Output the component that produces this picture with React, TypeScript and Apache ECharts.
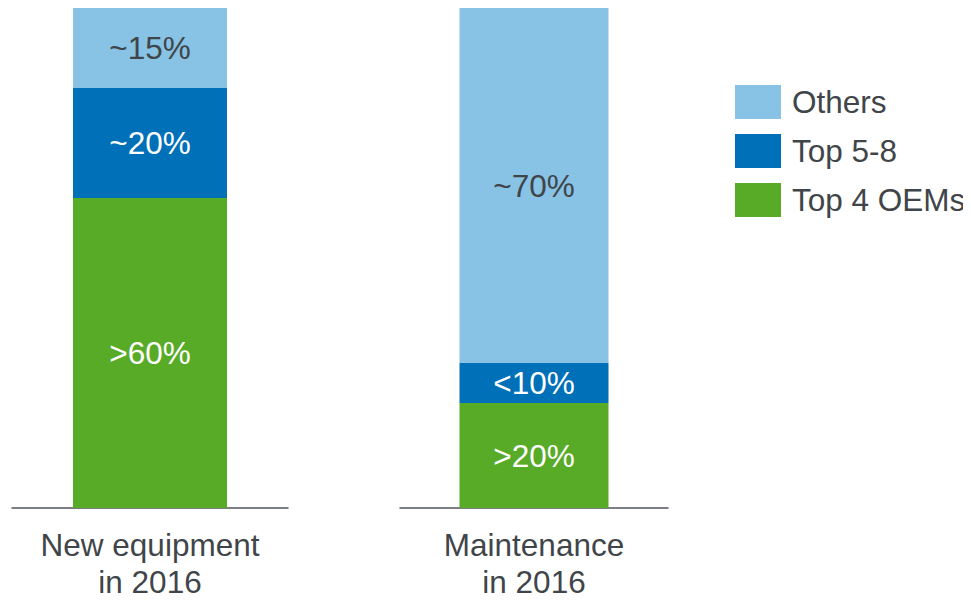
import React, { useEffect, useRef } from "react";
import * as echarts from "echarts";

const categories = ["New equipment\nin 2016", "Maintenance\nin 2016"];
const seriesNames = ["Top 4 OEMs", "Top 5-8", "Others"];
const top4Values = [62, 21];
const top58Values = [22, 8];
const othersValues = [16, 71];
const top4Labels = [">60%", ">20%"];
const top58Labels = ["~20%", "<10%"];
const othersLabels = ["~15%", "~70%"];

const colors = {
  "Top 4 OEMs": "#58ab27",
  "Top 5-8": "#0070b8",
  Others: "#88c3e6",
};

const FONT = "'Liberation Sans', Arial, sans-serif";
const TEXT = "#3f4549";
const FS = 31.5;

export default function App() {
  const ref = useRef<HTMLDivElement>(null);
  useEffect(() => {
    if (!ref.current) return;
    const chart = echarts.init(ref.current, undefined, { renderer: "svg" });
    const valuesBy: Record<string, number[]> = {
      "Top 4 OEMs": top4Values,
      "Top 5-8": top58Values,
      Others: othersValues,
    };
    const labelsBy: Record<string, string[]> = {
      "Top 4 OEMs": top4Labels,
      "Top 5-8": top58Labels,
      Others: othersLabels,
    };
    const barWidths = [154, 149];
    const series: any[] = [];
    categories.forEach((cat, gi) => {
      seriesNames.forEach((name) => {
        series.push({
          type: "bar",
          name,
          stack: "s" + gi,
          xAxisIndex: gi,
          yAxisIndex: gi,
          barWidth: barWidths[gi],
          data: [valuesBy[name][gi]],
          itemStyle: { color: (colors as any)[name] },
          label: {
            show: true,
            position: "inside",
            fontSize: FS,
            fontFamily: FONT,
            color: name === "Others" ? TEXT : "#ffffff",
            formatter: () => labelsBy[name][gi],
          },
        });
      });
    });
    chart.setOption({
      animation: false,
      grid: [
        { left: 12, width: 276, top: 8, bottom: 92 },
        { left: 400, width: 268, top: 8, bottom: 92 },
      ],
      legend: {
        data: ["Others", "Top 5-8", "Top 4 OEMs"],
        orient: "vertical",
        left: 735,
        top: 85,
        padding: 0,
        icon: "rect",
        itemWidth: 46,
        itemHeight: 34,
        itemGap: 15,
        textStyle: {
          fontSize: FS,
          fontFamily: FONT,
          color: TEXT,
          padding: [0, 0, 0, 6],
        },
      },
      xAxis: categories.map((c, gi) => ({
        type: "category",
        gridIndex: gi,
        data: [c],
        axisLine: { show: true, lineStyle: { color: "#50565b", width: 1.5 } },
        axisTick: { show: false },
        axisLabel: {
          fontSize: FS,
          fontFamily: FONT,
          color: TEXT,
          lineHeight: 37,
          margin: 18,
        },
      })),
      yAxis: categories.map((c, gi) => ({
        type: "value",
        gridIndex: gi,
        min: 0,
        max: 100,
        show: false,
        splitLine: { show: false },
      })),
      series,
    });
    return () => chart.dispose();
  }, []);
  return <div ref={ref} style={{ width: 971, height: 600, marginLeft: -8, marginTop: -8 }} />;
}
